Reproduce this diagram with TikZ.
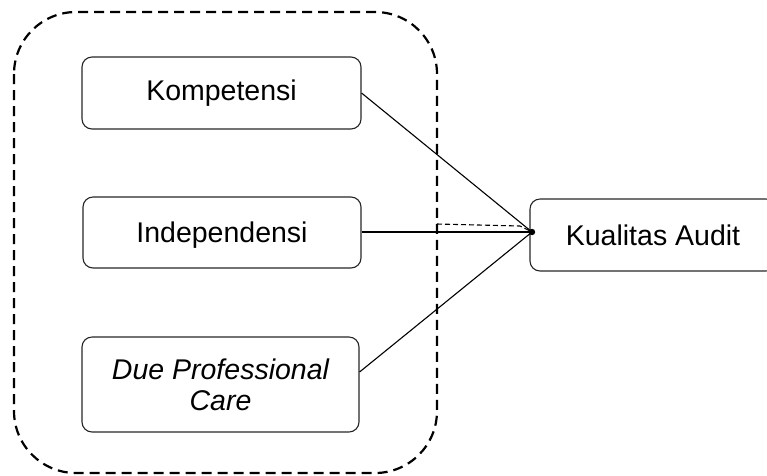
\documentclass[tikz,border=0pt]{standalone}
\usepackage{fontspec}
\setmainfont{Liberation Sans}
\begin{document}
\begin{tikzpicture}[x=1pt,y=-1pt,
  box/.style={draw=black!85, line width=1.1pt, rounded corners=10pt, inner sep=0pt, font=\fontsize{28.5}{31}\selectfont, align=center},
  conn/.style={draw=black, line width=1.1pt}]
\useasboundingbox (0,0) rectangle (767,475);
\clip (0,0) rectangle (767,475);
\draw[dashed, line width=2.2pt, dash pattern=on 10pt off 6pt, rounded corners=62pt] (14,12) rectangle (437,473);
\node[box, minimum width=279pt, minimum height=72pt] (komp) at (221.5,93) {Kompetensi};
\node[box, minimum width=278pt, minimum height=71pt, text depth=1pt] (indep) at (222,232.5) {Independensi};
\node[box, minimum width=277pt, minimum height=95pt] (due) at (220.5,384.5) {\itshape Due Professional\\\itshape Care};
\node[box, minimum width=246pt, minimum height=72pt] (ka) at (653,235) {Kualitas Audit};
\coordinate (hub) at (532,232);
\coordinate (d1) at (437,224);
\coordinate (d2) at (520,226);
\draw[conn] (komp.east |- 0,93) -- (hub);
\draw[conn] (indep.east |- 0,232) -- (hub);
\draw[conn] (due.east |- 0,372) -- (hub);
\draw[line width=1.1pt, dash pattern=on 5pt off 3pt] (d1) -- (d2) -- (hub);
\fill (hub) circle (3.2pt);
\end{tikzpicture}
\end{document}
